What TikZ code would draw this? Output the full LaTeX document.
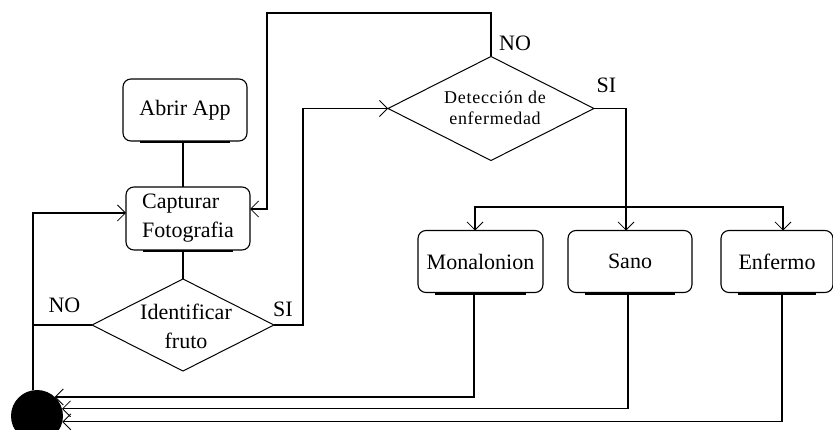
\documentclass[tikz,border=0pt]{standalone}
\usepackage{fontspec}
\setmainfont{Liberation Serif}
\usetikzlibrary{shapes.geometric,arrows.meta}

\begin{document}
\begin{tikzpicture}[x=1pt,y=-1pt,
  every node/.style={inner sep=0pt, outer sep=0pt},
  lbl/.style={font=\fontsize{22}{29}\selectfont},
  stepbox/.style={draw, line width=1.1pt, rounded corners=8pt, minimum height=62pt,
                  font=\fontsize{22}{29}\selectfont, align=center},
  choice/.style={draw, diamond, line width=1pt},
  link/.style={line width=1.1pt},
  arr/.style={line width=1.1pt, -{Straight Barb[length=8pt,width=16pt,line width=0.8pt]}},
  base/.style={line width=2.8pt, line cap=butt}
]
\useasboundingbox (0,0) rectangle (833,430);

% process steps
\node[stepbox, minimum width=124pt] (abrir) at (185,110) {Abrir App};
\node[stepbox, minimum width=124pt, minimum height=63pt, align=left] (cap) at (188,218.5) {Capturar\\Fotografia};
\node[stepbox, minimum width=125pt] (mono) at (480.5,261.5) {Monalonion};
\node[stepbox, minimum width=124pt] (sano) at (630,261.5) {Sano};
\node[stepbox, minimum width=112pt] (enf) at (777,261.5) {Enfermo};

% heavy underline on each step box
\foreach \b in {abrir,cap,mono,sano,enf}
  \draw[base] ([xshift=17pt,yshift=-1pt]\b.south west) -- ([xshift=-17pt,yshift=-1pt]\b.south east);

% decisions
\node[choice, minimum width=182pt, minimum height=92pt] (idf) at (183,325) {};
\node[lbl, align=center] (idft) at (186,326) {Identificar\\fruto};
\node[choice, minimum width=206pt, minimum height=104pt] (det) at (491,108.5) {};
\node[font=\fontsize{18}{21}\selectfont\addfontfeature{LetterSpace=4}, align=center] (dett) at (495,107.5) {Detección de\\enfermedad};

% end state
\node[circle, fill=black, minimum size=52pt] (endc) at (37,416) {};

% branch labels
\node[lbl] (noA) at (64.5,305) {NO};
\node[lbl] (siA) at (283,309) {SI};
\node[lbl] (noB) at (515,43) {NO};
\node[lbl] (siB) at (606.5,85.5) {SI};

% main flow
\draw[link] (abrir.south -| 183,0) -- (cap.north -| 183,0);
\draw[link] (cap.south -| idf.north) -- (idf.north);
\draw[arr] (idf.east) -- ++(29,0) |- (det.west);

% retry when no disease check result
\coordinate (topleft) at (267,13);
\draw[arr] (det.north) |- (topleft) |- ([yshift=9.5pt]cap.east);

% fruit not identified: back to capture
\draw[link] (idf.west) -- ++(-59,0);
\draw[arr] ([xshift=-4pt]endc.north) |- ([yshift=5.5pt]cap.west);

% results
\coordinate (split) at (626,207);
\draw[link] (det.east) -| (split);
\draw[arr] (split) -| ([xshift=-5.5pt]mono.north);
\draw[arr] (split) -- (split |- sano.north);
\draw[arr] (split) -| ([xshift=6pt]enf.north);

% all results lead to the end
\draw[arr] ([xshift=-6.5pt]mono.south) |- (endc.47);
\draw[arr] ([xshift=-2pt]sano.south) |- (endc.16);
\draw[arr] ([xshift=5pt]enf.south) |- (endc.-13);
\end{tikzpicture}
\end{document}
